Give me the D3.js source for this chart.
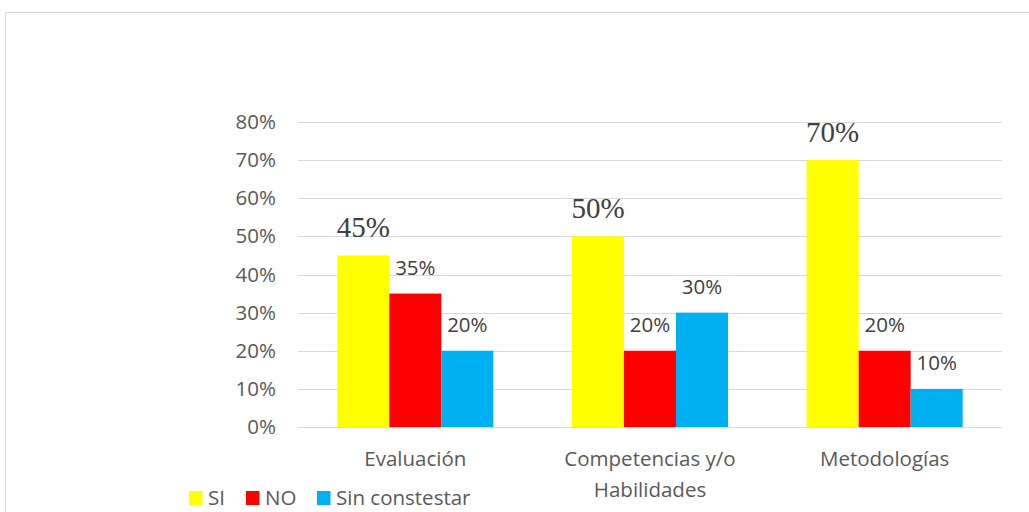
<!DOCTYPE html>
<html>
<head>
<meta charset="utf-8">
<script src="https://cdn.jsdelivr.net/npm/d3@7"></script>
<style>
  html, body { margin: 0; padding: 0; background: #fff; }
  svg { display: block; }
</style>
</head>
<body>
<svg id="chart" width="1029" height="512"></svg>
<script>
// Survey results per area (share of answers)
const categories = ["Evaluación", "Competencias y/o|Habilidades", "Metodologías"];
const seriesNames = ["SI", "NO", "Sin constestar"];
const siValues = [0.45, 0.50, 0.70];
const noValues = [0.35, 0.20, 0.20];
const sinValues = [0.20, 0.30, 0.10];
const tickValues = [0, 0.1, 0.2, 0.3, 0.4, 0.5, 0.6, 0.7, 0.8];
const colors = ["#ffff00", "#ff0000", "#00b0f0"];

const seriesValues = [siValues, noValues, sinValues];
const rows = categories.map((c, i) => ({
  category: c,
  values: seriesNames.map((s, j) => ({ series: s, idx: j, value: seriesValues[j][i] }))
}));

const svg = d3.select("#chart");
const sansFont = "'Open Sans', 'Noto Sans', sans-serif";
const textSize = 20.5;

// Chart frame
svg.append("path")
  .attr("d", "M5.5,520 L5.5,12.5 L1040,12.5")
  .attr("fill", "none")
  .attr("stroke", "#d9d9d9")
  .attr("stroke-width", 1);

const plot = { left: 298, right: 1002, top: 122, bottom: 427 };

const y = d3.scaleLinear().domain([0, 0.8]).range([plot.bottom, plot.top]);
const x0 = d3.scaleBand().domain(categories).range([plot.left, plot.right])
  .paddingInner(0.335).paddingOuter(0.1675);
const x1 = d3.scaleBand().domain(seriesNames).range([0, x0.bandwidth()]).padding(0);

// Gridlines
svg.append("g")
  .selectAll("line")
  .data(tickValues)
  .join("line")
  .attr("x1", plot.left).attr("x2", plot.right)
  .attr("y1", d => Math.round(y(d)) + 0.5).attr("y2", d => Math.round(y(d)) + 0.5)
  .attr("stroke", "#d9d9d9").attr("stroke-width", 1.2);

// Y axis labels
const yAxis = d3.axisLeft(y).tickValues(tickValues).tickFormat(d3.format(".0%")).tickSize(0).tickPadding(0);
const gy = svg.append("g").attr("transform", "translate(276,0)").call(yAxis);
gy.select(".domain").remove();
gy.selectAll("text")
  .attr("font-family", sansFont).attr("font-size", textSize).attr("fill", "#595959");

// Bars
const groups = svg.append("g").selectAll("g")
  .data(rows).join("g")
  .attr("transform", d => `translate(${x0(d.category)},0)`);

groups.selectAll("rect")
  .data(d => d.values)
  .join("rect")
  .attr("x", d => x1(d.series))
  .attr("width", x1.bandwidth())
  .attr("y", d => y(d.value))
  .attr("height", d => y(0) - y(d.value))
  .attr("fill", d => colors[d.idx]);

// Value labels
groups.selectAll("text")
  .data(d => d.values)
  .join("text")
  .attr("x", d => x1(d.series) + x1.bandwidth() / 2)
  .attr("y", d => y(d.value) - 18.5)
  .attr("text-anchor", "middle")
  .attr("font-family", d => d.idx === 0 ? "'Liberation Serif', 'Times New Roman', serif" : sansFont)
  .attr("font-size", d => d.idx === 0 ? 29 : textSize)
  .attr("fill", "#404040")
  .text(d => d3.format(".0%")(d.value));

// Category labels
const xl = svg.append("g").selectAll("text")
  .data(categories).join("text")
  .attr("x", d => x0(d) + x0.bandwidth() / 2)
  .attr("y", 466)
  .attr("text-anchor", "middle")
  .attr("font-family", sansFont).attr("font-size", textSize).attr("fill", "#595959");
xl.selectAll("tspan")
  .data(d => d.split("|").map(t => ({ t, c: d })))
  .join("tspan")
  .attr("x", d => x0(d.c) + x0.bandwidth() / 2)
  .attr("dy", (d, i) => i === 0 ? 0 : 30.5)
  .text(d => d.t);

// Legend
const legendX = [189, 246, 317];
const legend = svg.append("g").selectAll("g")
  .data(seriesNames).join("g")
  .attr("transform", (d, i) => `translate(${legendX[i]},491)`);
legend.append("rect").attr("width", 13.5).attr("height", 14).attr("fill", (d, i) => colors[i]);
legend.append("text")
  .attr("x", 19).attr("y", 14)
  .attr("font-family", sansFont).attr("font-size", textSize).attr("fill", "#595959")
  .text(d => d);
</script>
</body>
</html>
